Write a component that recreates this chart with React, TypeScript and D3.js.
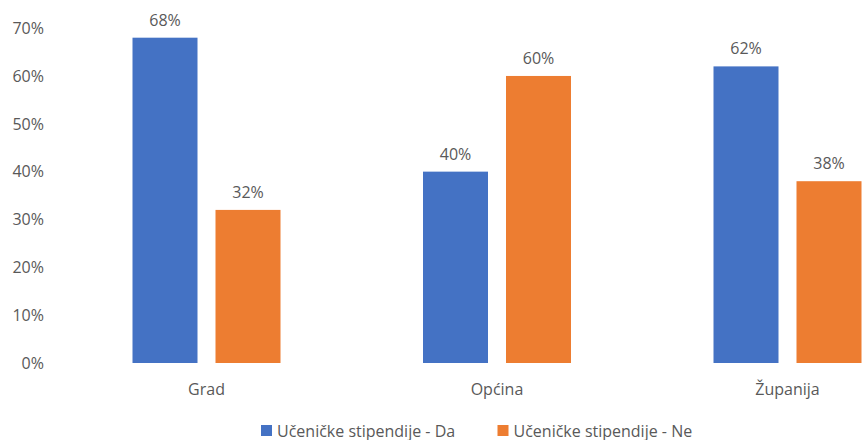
import React from "react";
import * as d3 from "d3";

const categories = ["Grad", "Općina", "Županija"];
const seriesNames = ["Učeničke stipendije - Da", "Učeničke stipendije - Ne"];
const seriesDa = [68, 40, 62];
const seriesNe = [32, 60, 38];
const yTicks = [0, 10, 20, 30, 40, 50, 60, 70];
const colors = ["#4472C4", "#ED7D31"];

const W = 862;
const H = 440;
const font = "'Open Sans', sans-serif";
const textColor = "#595959";
const fs = 16;

export default function App() {
  const x = d3.scaleBand<string>().domain(categories).range([61.25, 932.75]).paddingInner(0).paddingOuter(0);
  const y = d3.scaleLinear().domain([0, 100]).range([363, 363 - 478.4]);
  const barW = 65;
  const gap = 18;
  const series = [seriesDa, seriesNe];

  return (
    <svg width={W} height={H} style={{ position: "absolute", left: 0, top: 0 }} fontFamily={font}>
      <rect width={W} height={H} fill="#fff" />
      {yTicks.map((t) => (
        <text key={t} x={44} y={y(t)} dy="0.36em" textAnchor="end" fontSize={fs} fill={textColor}>
          {t}%
        </text>
      ))}
      {categories.map((c, i) => {
        const cx = (x(c) as number) + x.bandwidth() / 2;
        const start = cx - (2 * barW + gap) / 2;
        return (
          <g key={c}>
            {series.map((s, j) => {
              const bx = start + j * (barW + gap);
              return (
                <g key={j}>
                  <rect x={bx} y={y(s[i])} width={barW} height={y(0) - y(s[i])} fill={colors[j]} />
                  <text x={bx + barW / 2} y={y(s[i]) - 12} textAnchor="middle" fontSize={fs} fill={textColor}>
                    {s[i]}%
                  </text>
                </g>
              );
            })}
            <text x={cx} y={395} textAnchor="middle" fontSize={fs} fill={textColor}>
              {c}
            </text>
          </g>
        );
      })}
      {seriesNames.map((n, j) => {
        const lx = [261, 497.5][j];
        return (
          <g key={n}>
            <rect x={lx} y={425} width={11} height={11} fill={colors[j]} />
            <text x={lx + 16} y={437} fontSize={fs} fill={textColor}>
              {n}
            </text>
          </g>
        );
      })}
    </svg>
  );
}
